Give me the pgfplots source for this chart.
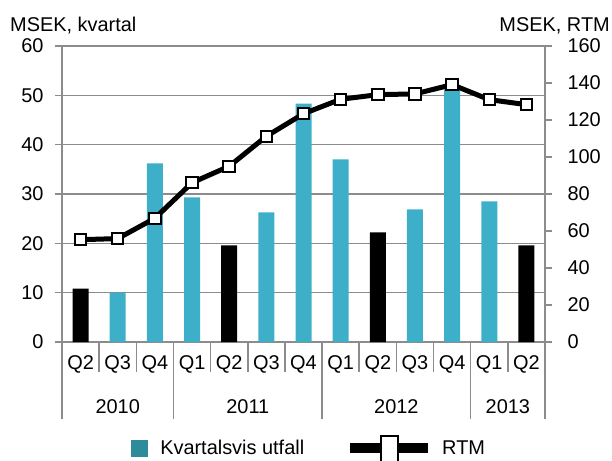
\documentclass[border=0pt]{standalone}
\usepackage{pgfplots}
\pgfplotsset{compat=1.18}
\usepackage{fontspec}
\setmainfont{Liberation Sans}
\definecolor{barcyan}{HTML}{3EAFC8}
\definecolor{legteal}{HTML}{2E8B9A}
\definecolor{axgray}{HTML}{8C8C8C}
\newcommand{\cfont}{\fontsize{20}{24}\selectfont}
\begin{document}
\begin{tikzpicture}
\useasboundingbox (-62bp,-119bp) rectangle (550bp,342bp);
\pgfplotsset{
  every axis/.append style={
    scale only axis, width=483bp, height=296bp, at={(0,0)}, anchor=south west,
    xmin=-0.5, xmax=12.5,
    tick label style={font=\cfont},
    /pgf/number format/assume math mode=true,
    tick align=outside,
    axis line style={axgray, line width=1.5bp, -},
    every tick/.style={axgray, line width=1.5bp},
    major tick length=7bp,
  }
}
\begin{axis}[
  ymin=0, ymax=60, ytick={0,10,...,60},
  axis x line*=bottom, axis y line*=left,
  ymajorgrids, grid style={axgray, line width=1.5bp},
  xtick={0,...,12},
  xticklabels={Q2,Q3,Q4,Q1,Q2,Q3,Q4,Q1,Q2,Q3,Q4,Q1,Q2},
  major x tick style={draw=none},
  minor xtick={-0.5,0.5,...,12.5},
  minor tick length=30bp,
  xticklabel style={anchor=base, yshift=-20bp},
  yticklabel style={anchor=east, xshift=-8bp},
  clip=false,
]
\addplot[ybar, bar shift=0pt, bar width=16bp, fill=barcyan, draw=none]
  coordinates {(1,10) (2,36.2) (3,29.3) (5,26.3) (6,48.3) (7,37.0) (9,26.9) (10,51.2) (11,28.5)};
\addplot[ybar, bar shift=0pt, bar width=16bp, fill=black, draw=none]
  coordinates {(0,10.8) (4,19.6) (8,22.2) (12,19.6)};
\pgfplotsinvokeforeach{-0.5,2.5,6.5,10.5,12.5}{
  \draw[axgray, line width=1.5bp] (axis cs:#1,0) -- ([yshift=-77bp]axis cs:#1,0);
}
\node[font=\cfont] at (axis cs:1,0)   [yshift=-65bp] {2010};
\node[font=\cfont] at (axis cs:4.5,0) [yshift=-65bp] {2011};
\node[font=\cfont] at (axis cs:8.5,0) [yshift=-65bp] {2012};
\node[font=\cfont] at (axis cs:11.5,0)[yshift=-65bp] {2013};
\end{axis}
\begin{axis}[
  ymin=0, ymax=160, ytick={0,20,...,160},
  axis y line*=right, axis x line=none,
  yticklabel style={anchor=west, xshift=12bp},
  clip=false,
  legend columns=2,
  legend style={at={(axis description cs:0.1422,-0.3615)}, anchor=west,
    draw=none, fill=none, font=\cfont, inner sep=0pt,
    nodes={inner sep=0pt},
    /tikz/every odd column/.append style={column sep=13bp},
    /tikz/every even column/.append style={column sep=41bp}},
]
\addlegendimage{legend image code/.code={\fill[legteal] (0bp,-8bp) rectangle (16bp,8bp);}}
\addlegendentry{Kvartalsvis utfall}
\addplot[black, line width=5bp, mark=square*, mark size=5.7bp,
  mark options={fill=white, draw=black, line width=2bp},
  legend image code/.code={
    \draw[black, line width=10bp] (0bp,0bp) -- (74bp,0bp);
    \draw[overlay, black, line width=10bp] (73bp,0bp) -- (78bp,0bp);
    \draw[black, fill=white, line width=2bp] (31bp,-14bp) rectangle (48bp,12bp);}]
  coordinates {(0,55.3) (1,55.9) (2,66.9) (3,86.1) (4,95.0) (5,111.2) (6,123.4)
               (7,131.2) (8,133.7) (9,134.1) (10,139.1) (11,131.0) (12,128.3)};
\addlegendentry{RTM}
\end{axis}
\node[font=\cfont, anchor=base west, inner sep=0pt] at (-52bp,310bp) {MSEK, kvartal};
\node[font=\cfont, anchor=base east, inner sep=0pt] at (548bp,310bp) {MSEK, RTM};
\end{tikzpicture}
\end{document}
